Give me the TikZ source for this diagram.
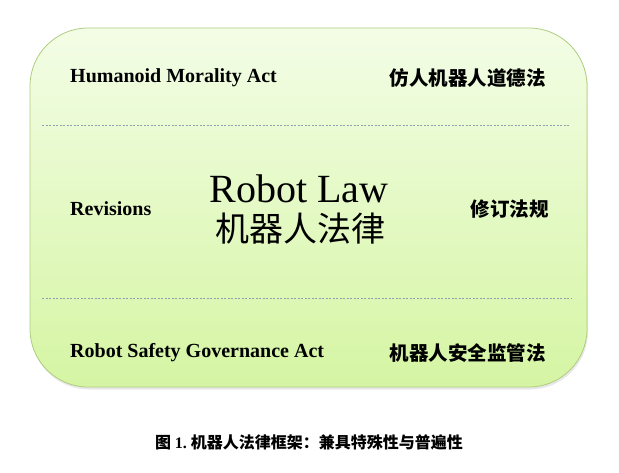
\documentclass[tikz,border=0pt]{standalone}
\usepackage{fontspec}
\setmainfont{Liberation Serif}
\newfontfamily\cjk{Noto Sans CJK SC}
\usetikzlibrary{shadows}
\definecolor{boxtop}{RGB}{243,253,230}
\definecolor{boxbottom}{RGB}{213,245,163}
\definecolor{boxline}{RGB}{176,204,128}
\definecolor{sepline}{RGB}{140,160,178}
\tikzset{
	lawlabel/.style={shape=rectangle, inner sep=0pt, font=\fontsize{20}{22}\selectfont\bfseries},
	cjklabel/.style={shape=rectangle, inner sep=0pt, font=\fontsize{19.5}{22}\selectfont\cjk\bfseries},
	separator/.style={draw=sepline, line width=0.6pt, dash pattern={on 2pt off 1.5pt}}
}
\begin{document}
\begin{tikzpicture}[x=1pt, y=-1pt]
	\useasboundingbox (0,0) rectangle (619,473);

	% Frame and separators:
	\node[shape=rectangle, rounded corners=58pt, draw=boxline, line width=0.8pt, top color=boxtop, bottom color=boxbottom, minimum width=557pt, minimum height=359pt, drop shadow={opacity=0.18, shadow xshift=1pt, shadow yshift=-2.5pt}](Frame) at (308.5, 207.5){};
	\coordinate (S1a) at (42, 125);
	\coordinate (S1b) at (570, 125);
	\coordinate (S2a) at (42, 298);
	\coordinate (S2b) at (572, 298);
	\draw[separator] (S1a) -- (S1b);
	\draw[separator] (S2a) -- (S2b);

	% Labels:
	\node[lawlabel, anchor=west](L1) at (70, 78){Humanoid Morality Act};
	\node[cjklabel, anchor=east](C1) at (546, 78){仿人机器人道德法};
	\node[lawlabel, anchor=west](L2) at (70, 209){Revisions};
	\node[cjklabel, anchor=east](C2) at (549, 209){修订法规};
	\node[lawlabel, anchor=west](L3) at (70, 353){Robot Safety Governance Act};
	\node[cjklabel, anchor=east](C3) at (546, 353){机器人安全监管法};
	\node[shape=rectangle, inner sep=0pt, font=\fontsize{40}{42}\selectfont](T1) at (299, 189){Robot Law};
	\node[shape=rectangle, inner sep=0pt, font=\fontsize{34}{36}\selectfont\cjk](T2) at (300, 229){机器人法律};

	% Caption:
	\node[shape=rectangle, inner sep=0pt, font=\fontsize{16}{18}\selectfont\bfseries](Cap) at (309, 442){\cjk 图\ \rmfamily 1.\ \cjk 机器人法律框架：兼具特殊性与普遍性};

\end{tikzpicture}
\end{document}
